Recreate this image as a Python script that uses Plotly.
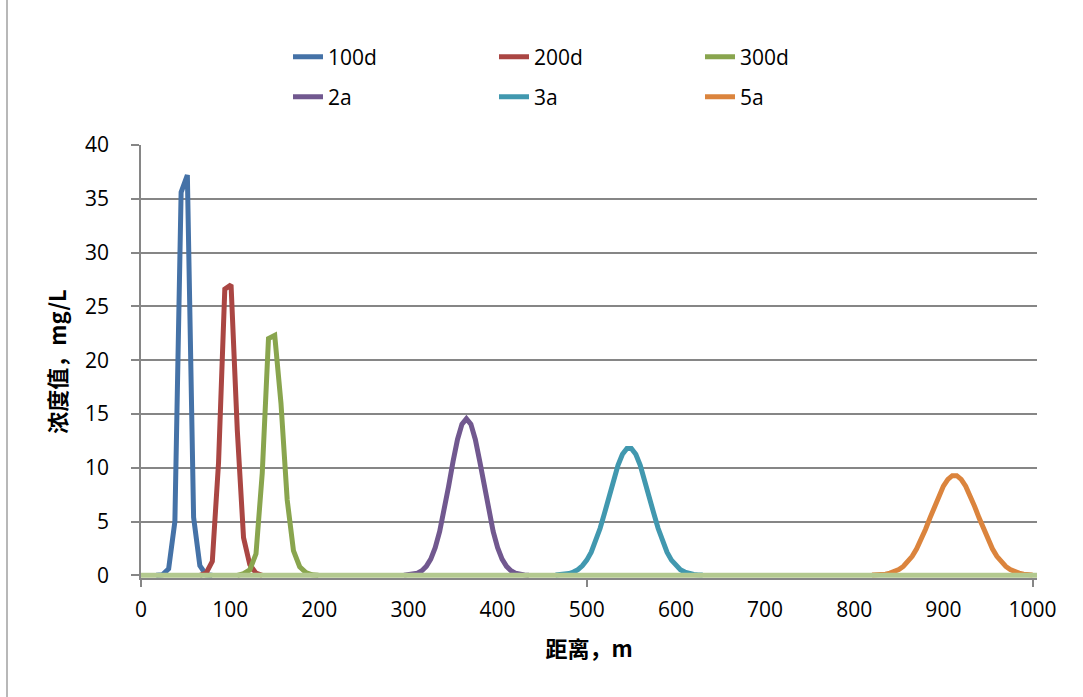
import plotly.graph_objects as go

# ---------------- data ----------------
x_100d = [17, 24, 31, 38, 45, 52, 59, 66, 73, 80]
y_100d = [0.0, 0.05, 0.6, 5.0, 35.6, 37.2, 5.4, 0.9, 0.05, 0.0]

x_200d = [66, 73, 80, 87, 94, 101, 108, 115, 122, 129, 136]
y_200d = [0.0, 0.2, 1.3, 10.5, 26.6, 27.0, 13.5, 3.5, 1.0, 0.2, 0.0]

x_300d = [108, 115, 122, 129, 136, 143, 150, 157, 164, 171, 178, 185, 192, 199]
y_300d = [0.0, 0.15, 0.5, 2.0, 9.5, 22.0, 22.3, 16.0, 7.0, 2.3, 0.8, 0.25, 0.05, 0.0]

x_2a = [295, 300, 305, 310, 315, 320, 325, 330, 335, 340, 345, 350, 355, 360, 365,
        370, 375, 380, 385, 390, 395, 400, 405, 410, 415, 420, 425, 430, 435]
y_2a = [0.015, 0.04, 0.09, 0.20, 0.42, 0.83, 1.51, 2.57, 4.07, 6.01, 8.26, 10.58, 12.63, 14.05, 14.55,
        14.05, 12.63, 10.58, 8.26, 6.01, 4.07, 2.57, 1.51, 0.83, 0.42, 0.20, 0.09, 0.04, 0.015]

x_3a = [465, 470, 475, 480, 485, 490, 495, 500, 505, 510, 515, 520, 525, 530, 535, 540, 545,
        550, 555, 560, 565, 570, 575, 580, 585, 590, 595, 600, 605, 610, 615, 620, 625, 630]
y_3a = [0.02, 0.04, 0.08, 0.16, 0.30, 0.52, 0.88, 1.41, 2.15, 3.14, 4.37, 5.80, 7.35, 8.88, 10.23, 11.25, 11.79,
        11.79, 11.25, 10.23, 8.88, 7.35, 5.80, 4.37, 3.14, 2.15, 1.41, 0.88, 0.52, 0.30, 0.16, 0.08, 0.04, 0.02]

x_5a = [820, 825, 830, 835, 840, 845, 850, 855, 860, 865, 870, 875, 880, 885, 890, 895, 900, 905, 910,
        915, 920, 925, 930, 935, 940, 945, 950, 955, 960, 965, 970, 975, 980, 985, 990, 995, 1000]
y_5a = [0.02, 0.03, 0.06, 0.11, 0.20, 0.33, 0.53, 0.82, 1.23, 1.77, 2.47, 3.31, 4.28, 5.34, 6.41, 7.43, 8.29, 8.92, 9.26,
        9.26, 8.92, 8.29, 7.43, 6.41, 5.34, 4.28, 3.31, 2.47, 1.77, 1.23, 0.82, 0.53, 0.33, 0.20, 0.11, 0.06, 0.03]

# zero concentration line along the whole profile
x_base = [0, 1005]
y_base = [0, 0]

series_names = ["100d", "200d", "300d", "2a", "3a", "5a"]
series_colors = ["#4572A7", "#AA4643", "#89A54E", "#71588F", "#4198AF", "#DB843D"]

x_ticks = [0, 100, 200, 300, 400, 500, 600, 700, 800, 900, 1000]
x_marks = [0, 500, 1000]
y_ticks = [0, 5, 10, 15, 20, 25, 30, 35, 40]

x_title = "距离，m"
y_title = "浓度值，mg/L"

# ---------------- figure ----------------
W, H = 1083, 697
Y_LOW = -0.25
ML, MR, MT, MB = 141, 46, 145, 119
PW, PH = W - ML - MR, H - MT - MB

GRID = "#868686"
LATIN = "Open Sans, Liberation Sans, sans-serif"
TICKFONT = dict(family=LATIN, size=21, color="#000000")
CJK = "Noto Sans CJK SC, Noto Sans, sans-serif"

fig = go.Figure()
xs = [x_100d, x_200d, x_300d, x_2a, x_3a, x_5a]
ys = [y_100d, y_200d, y_300d, y_2a, y_3a, y_5a]
for i, (name, col) in enumerate(zip(series_names, series_colors)):
    fig.add_trace(go.Scatter(
        x=xs[i], y=ys[i], name=name, mode="lines",
        line=dict(color=col, width=5),
        legend="legend" if i < 3 else "legend2",
    ))
fig.add_trace(go.Scatter(x=x_base, y=y_base, mode="lines", showlegend=False,
                         line=dict(color="#B3C98F", width=5), hoverinfo="skip"))
# helper axis carrying only the tick marks at 0/500/1000
fig.add_trace(go.Scatter(x=x_marks, y=[None] * len(x_marks), xaxis="x2", showlegend=False,
                         mode="lines", hoverinfo="skip"))

def px_x(p):
    return (p - ML) / PW

def px_y(p):
    return (H - MB - p) / PH

legend_common = dict(orientation="h", xanchor="left", yanchor="middle",
                     font=dict(family=LATIN, size=21, color="#000"),
                     entrywidth=161, entrywidthmode="pixels", bgcolor="rgba(0,0,0,0)",
                     tracegroupgap=0, itemwidth=30)

fig.update_layout(
    width=W, height=H,
    margin=dict(l=ML, r=MR, t=MT, b=MB),
    paper_bgcolor="white", plot_bgcolor="white",
    legend=dict(x=px_x(288), y=px_y(57), **legend_common),
    legend2=dict(x=px_x(288), y=px_y(97), **legend_common),
    xaxis=dict(range=[0, 1005], tickvals=x_ticks, ticktext=[str(v) for v in x_ticks],
               ticks="", showgrid=False, showline=True, linecolor=GRID, linewidth=1.5,
               tickfont=TICKFONT, ticklabelstandoff=12, zeroline=False,
               title=dict(text=x_title, font=dict(family=CJK, size=22, color="#000", weight="bold"),
                          standoff=20)),
    xaxis2=dict(overlaying="x", matches="x", side="bottom", tickvals=x_marks, showticklabels=False,
                ticks="outside", ticklen=8, tickwidth=1.5, tickcolor=GRID, showgrid=False,
                showline=False, zeroline=False),
    yaxis=dict(range=[Y_LOW, 40], tickvals=y_ticks, ticks="outside", ticklen=8, tickwidth=1.5,
               tickcolor=GRID, showgrid=True, gridcolor=GRID, gridwidth=1.5,
               showline=True, linecolor=GRID, linewidth=1.5, zeroline=False,
               tickfont=TICKFONT, ticklabelstandoff=18,
               title=dict(text=y_title, font=dict(family=CJK, size=22, color="#000", weight="bold"),
                          standoff=12)),
    shapes=[dict(type="line", xref="paper", yref="paper",
                 x0=px_x(7), x1=px_x(7), y0=px_y(0), y1=px_y(H),
                 line=dict(color="#A0A0A0", width=1.5))],
    showlegend=True,
)

fig.write_html("out.html", config={"displayModeBar": False},
               post_script="document.body.style.margin='0';")
